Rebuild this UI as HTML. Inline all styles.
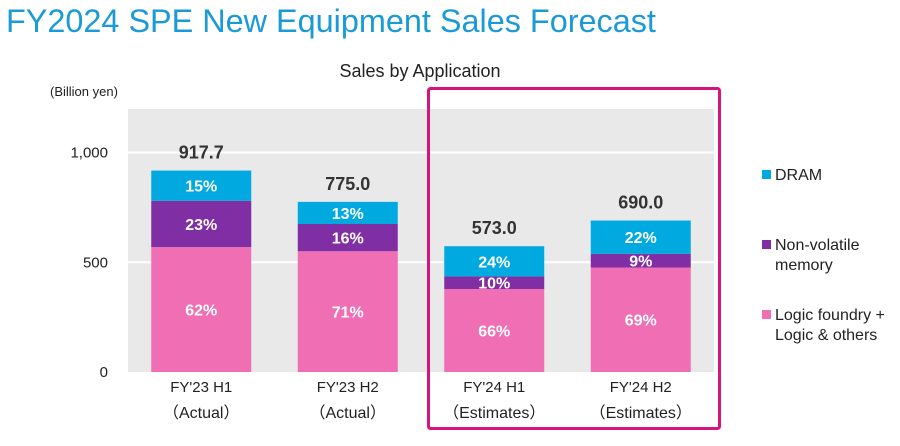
<!DOCTYPE html>
<html><head><meta charset="utf-8"><style>
body{margin:0;background:#fff;width:900px;height:441px;overflow:hidden;font-family:"Liberation Sans","Noto Sans CJK JP",sans-serif}
</style></head><body>
<svg width="900" height="441" xmlns="http://www.w3.org/2000/svg" font-family="Liberation Sans, Noto Sans CJK JP, sans-serif">
<text x="6" y="32" font-size="32.4" fill="#1a9ad6">FY2024 SPE New Equipment Sales Forecast</text>
<text x="420" y="77" font-size="18" fill="#222" text-anchor="middle">Sales by Application</text>
<text x="50" y="96" font-size="13" fill="#222">(Billion yen)</text>
<rect x="128" y="109" width="586" height="263" fill="#e9e9e9"/>
<g id="grid"></g><g id="bars"></g><g id="labels"></g>
<rect x="428.5" y="88.5" width="291" height="340" fill="none" stroke="#d6147c" stroke-width="3" rx="2"/>
<g font-size="16" fill="#222">
<rect x="762" y="170" width="9" height="9" fill="#00a9e0"/>
<text x="775" y="180">DRAM</text>
<rect x="762" y="240" width="9" height="9" fill="#7f2fa3"/>
<text x="775" y="250">Non-volatile</text>
<text x="775" y="270">memory</text>
<rect x="762" y="310" width="9" height="9" fill="#f06eb4"/>
<text x="775" y="320">Logic foundry +</text>
<text x="775" y="340">Logic &amp; others</text>
</g>
</svg>
<script>
const categories=["FY'23 H1","FY'23 H2","FY'24 H1","FY'24 H2"];
const subLabels=["（Actual）","（Actual）","（Estimates）","（Estimates）"];
const totals=[917.7,775.0,573.0,690.0];
const logicPct=[62,71,66,69];
const nvPct=[23,16,10,9];
const dramPct=[15,13,24,22];
const yTicks=[0,500,1000];
const yTickLabels=["0","500","1,000"];
const NS="http://www.w3.org/2000/svg";
const x0=128,bandW=146.5,barW=100;
function y(v){return 372-v*0.2195;}
function xc(i){return x0+bandW*(i+0.5);}
function mk(tag,attrs,parent,txt){const e=document.createElementNS(NS,tag);for(const k in attrs)e.setAttribute(k,attrs[k]);if(txt!==undefined)e.textContent=txt;document.getElementById(parent).appendChild(e);return e;}
yTicks.forEach((t,i)=>{
 if(t>0){const g=mk('line',{x1:128,x2:714,y1:y(t),y2:y(t),stroke:'#fff','stroke-width':2},'grid');
 
 }
 const l=mk('text',{x:108,y:y(t)+5,'font-size':15,fill:'#222','text-anchor':'end'},'labels',yTickLabels[i]);
 
 
});
const series=[[logicPct,'#f06eb4','logic'],[nvPct,'#7f2fa3','nv'],[dramPct,'#00a9e0','dram']];
categories.forEach((c,i)=>{
 let base=0;
 series.forEach(s=>{
  const v=totals[i]*s[0][i]/100;
  const r=mk('rect',{x:xc(i)-barW/2,y:y(base+v),width:barW,height:y(base)-y(base+v),fill:s[1]},'bars');
  
  
  const t=mk('text',{x:xc(i),y:(y(base)+y(base+v))/2+6,'font-size':16,'font-weight':'bold',fill:'#fff','text-anchor':'middle'},'labels',s[0][i]+'%');
  
  
  base+=v;
 });
 const tt=mk('text',{x:xc(i),y:y(totals[i])-12,'font-size':18,'font-weight':'bold',fill:'#333','text-anchor':'middle'},'labels',totals[i].toFixed(1));
 
 
 const cl=mk('text',{x:xc(i),y:392,'font-size':15,fill:'#222','text-anchor':'middle'},'labels',c);
 
 
 const sl=mk('text',{x:xc(i),y:418,'font-size':16,fill:'#222','text-anchor':'middle'},'labels',subLabels[i]);
 
 
});
</script>
</body></html>
